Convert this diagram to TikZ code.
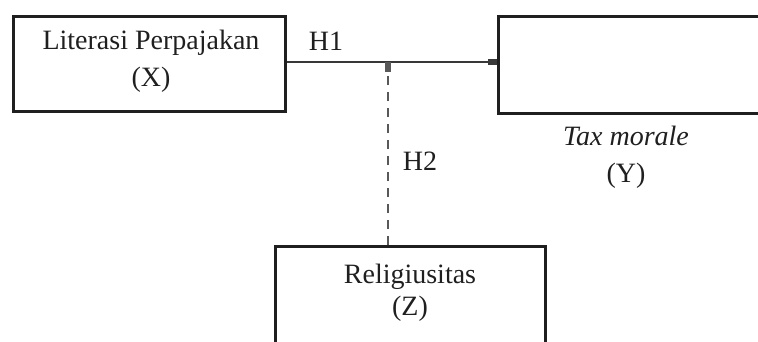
\documentclass[tikz,border=0pt]{standalone}
\usepackage{fontspec}
\setmainfont{Liberation Serif}
\usetikzlibrary{arrows.meta}
\begin{document}
\begin{tikzpicture}[x=1pt,y=-1pt,
  box/.style={draw=black!88,line width=2.8pt,inner sep=0pt},
  lbl/.style={font=\fontsize{28}{37}\selectfont,text=black!88,align=center},
  conn/.style={draw=black!78,line width=2.8pt,-{Rectangle[length=9pt,width=6pt]}},
  dconn/.style={draw=black!65,line width=2.8pt,dash pattern=on 9pt off 7pt,-{Rectangle[length=10pt,width=6pt]}}]
\useasboundingbox (0,0) rectangle (758,341);
\clip (0,0) rectangle (758,341);
\node[box,minimum width=272pt,minimum height=95pt,anchor=north west] (x) at (12,15) {};
\node[lbl] (xt) at (151,61) {Literasi Perpajakan\\(X)};
\node[box,minimum width=280pt,minimum height=97pt,anchor=north west] (y) at (497,15) {};
\node[lbl] (yt) at (626,157) {\textit{Tax morale}\\(Y)};
\node[box,minimum width=270pt,minimum height=140pt,anchor=north west] (z) at (274,245) {};
\node[lbl] (zt) at (410,293) {Religiusitas\\[-5pt](Z)};
\coordinate (m) at (388,62);
\draw[conn] (x.east |- m) -- (y.west |- m);
\draw[dconn] (z.north -| m) -- (m);
\node[lbl] (h1) at (326,41) {H1};
\node[lbl] (h2) at (420,161) {H2};
\end{tikzpicture}
\end{document}
